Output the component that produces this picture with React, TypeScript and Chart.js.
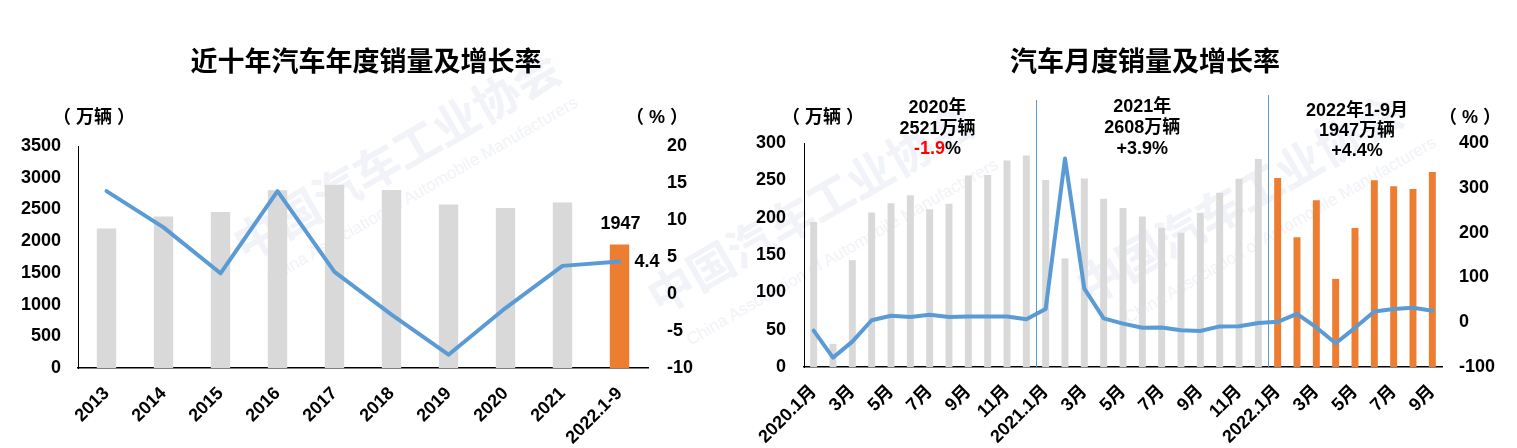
import React, { useEffect, useRef } from 'react';
import { Chart, registerables } from 'chart.js';

Chart.register(...registerables);

// ---------- DATA ----------
const yearLabels = ['2013', '2014', '2015', '2016', '2017', '2018', '2019', '2020', '2021', '2022.1-9'];
const yearSales = [2198, 2390, 2460, 2803, 2888, 2808, 2577, 2521, 2608, 1947];
const yearGrowth = [13.9, 9.0, 2.8, 13.9, 3.0, -2.8, -8.2, -1.9, 3.8, 4.4];

const monthLabels = [
  '2020.1月', '2月', '3月', '4月', '5月', '6月', '7月', '8月', '9月', '10月', '11月', '12月',
  '2021.1月', '2月', '3月', '4月', '5月', '6月', '7月', '8月', '9月', '10月', '11月', '12月',
  '2022.1月', '2月', '3月', '4月', '5月', '6月', '7月', '8月', '9月',
];
const monthSales = [
  194.1, 31.0, 143.1, 207.0, 219.4, 230.0, 211.2, 218.6, 256.5, 257.3, 276.5, 283.1,
  250.3, 145.5, 252.6, 225.2, 212.8, 201.5, 186.4, 179.9, 206.7, 233.3, 252.2, 278.6,
  253.1, 173.7, 223.4, 118.1, 186.2, 250.2, 242.0, 238.3, 261.0,
];
const monthGrowth = [
  -18.7, -79.1, -43.3, 4.4, 14.5, 11.6, 16.4, 11.6, 12.8, 12.5, 12.6, 6.4,
  29.5, 365.2, 74.9, 8.6, -3.1, -12.4, -11.9, -17.8, -19.6, -9.4, -9.1, -1.6,
  0.9, 18.7, -11.7, -47.1, -12.6, 23.8, 29.7, 32.1, 25.7,
];

const periodNames = ['2020年', '2021年', '2022年1-9月'];
const periodTotals = [2521, 2608, 1947];
const periodGrowth = [-1.9, 3.9, 4.4];
const highlightFrom = 24; // 2022 months highlighted

// ---------- STYLE ----------
const FAMILY = "'Liberation Sans', 'Noto Sans CJK SC', sans-serif";
const GRAY = '#d9d9d9';
const ORANGE = '#ed7d31';
const BLUE = '#5b9bd5';
const tickFont = { family: FAMILY, size: 18, weight: 'bold' as const };

function boldFont(size: number) {
  return `bold ${size}px ${FAMILY}`;
}

const leftDecor = {
  id: 'leftDecor',
  afterDatasetsDraw(chart: any) {
    const ctx = chart.ctx;
    ctx.save();
    const barEl = chart.getDatasetMeta(0).data[yearSales.length - 1];
    const lineEl = chart.getDatasetMeta(1).data[yearGrowth.length - 1];
    ctx.fillStyle = '#000';
    ctx.font = boldFont(18);
    ctx.textBaseline = 'middle';
    ctx.textAlign = 'center';
    ctx.fillText(String(yearSales[yearSales.length - 1]), barEl.x + 1, barEl.y - 20);
    ctx.textAlign = 'left';
    ctx.fillText(String(yearGrowth[yearGrowth.length - 1]), lineEl.x + 15, lineEl.y + 1);
    // title & units
    ctx.font = boldFont(27);
    ctx.textAlign = 'center';
    ctx.fillText('近十年汽车年度销量及增长率', 366, 64);
    ctx.font = boldFont(18);
    ctx.fillText('（ 万辆 ）', 94, 118);
    ctx.fillText('（ % ）', 657, 118);
    ctx.restore();
  },
};

const annX = [6.4, 17.0, 28.1];
const annY = [[-35, -14, 6], [-36, -15, 6], [-32, -12, 8]];

const rightDecor = {
  id: 'rightDecor',
  afterDatasetsDraw(chart: any) {
    const ctx = chart.ctx;
    const xs = chart.scales.x;
    const area = chart.chartArea;
    ctx.save();
    // separators
    ctx.strokeStyle = BLUE;
    ctx.lineWidth = 1;
    const sepTops = [100, 95];
    [11.5, 23.5].forEach((v, i) => {
      const px = Math.round(xs.getPixelForValue(v)) + 0.5;
      ctx.beginPath();
      ctx.moveTo(px, sepTops[i]);
      ctx.lineTo(px, area.bottom);
      ctx.stroke();
    });
    ctx.font = boldFont(18);
    ctx.textBaseline = 'middle';
    periodNames.forEach((name, i) => {
      const cx = xs.getPixelForValue(annX[i]);
      ctx.fillStyle = '#000';
      ctx.textAlign = 'center';
      ctx.fillText(name, cx, area.top + annY[i][0]);
      ctx.fillText(`${periodTotals[i]}万辆`, cx, area.top + annY[i][1]);
      const g = periodGrowth[i];
      const num = g > 0 ? `+${g}` : `${g}`;
      if (g < 0) {
        const w1 = ctx.measureText(num).width;
        const w2 = ctx.measureText('%').width;
        const left = cx - (w1 + w2) / 2;
        ctx.textAlign = 'left';
        ctx.fillStyle = '#ff0000';
        ctx.fillText(num, left, area.top + annY[i][2]);
        ctx.fillStyle = '#000';
        ctx.fillText('%', left + w1, area.top + annY[i][2]);
      } else {
        ctx.fillText(`${num}%`, cx, area.top + annY[i][2]);
      }
    });
    ctx.fillStyle = '#000';
    ctx.textAlign = 'center';
    ctx.font = boldFont(27);
    ctx.fillText('汽车月度销量及增长率', 405, 64);
    ctx.font = boldFont(18);
    ctx.fillText('（ 万辆 ）', 83, 118);
    ctx.fillText('（ % ）', 730, 118);
    ctx.restore();
  },
};

function axisY(min: number, max: number, step: number, pos: 'left' | 'right', width: number, pad: number, border: boolean) {
  return {
    position: pos,
    min,
    max,
    ticks: { stepSize: step, font: tickFont, color: '#000', padding: pad, callback: (v: any) => String(v) },
    grid: { display: false, drawTicks: false },
    border: { display: border, color: '#000', width: 1 },
    afterFit: (s: any) => {
      s.width = width;
    },
  };
}

function LeftChart() {
  const ref = useRef<HTMLCanvasElement>(null);
  useEffect(() => {
    const chart = new Chart(ref.current!, {
      type: 'bar',
      data: {
        labels: yearLabels,
        datasets: [
          {
            type: 'bar',
            data: yearSales,
            backgroundColor: yearSales.map((_, i) => (i === yearSales.length - 1 ? ORANGE : GRAY)),
            barPercentage: 1,
            categoryPercentage: 0.34,
            yAxisID: 'y',
            order: 2,
          },
          {
            type: 'line',
            data: yearGrowth,
            borderColor: BLUE,
            borderWidth: 4,
            pointRadius: 0,
            tension: 0,
            borderJoinStyle: 'round',
            borderCapStyle: 'round',
            yAxisID: 'y1',
            order: 1,
          } as any,
        ],
      },
      options: {
        animation: false,
        responsive: false,
        maintainAspectRatio: false,
        layout: { padding: { top: 146, left: 0, right: 0, bottom: 0 } },
        plugins: { legend: { display: false }, tooltip: { enabled: false }, title: { display: false } },
        scales: {
          x: {
            grid: { display: false, drawTicks: false },
            border: { display: true, color: '#000', width: 1.5 },
            ticks: { font: tickFont, color: '#000', maxRotation: 45, minRotation: 45, padding: 15, autoSkip: false },
            afterFit: (s: any) => {
              s.height = 80;
            },
          },
          y: axisY(0, 3500, 500, 'left', 78, 17, true),
          y1: axisY(-10, 20, 5, 'right', 110, 19, false),
        } as any,
      },
      plugins: [leftDecor],
    });
    return () => chart.destroy();
  }, []);
  return <canvas ref={ref} width={758} height={448} style={{ position: 'absolute', left: 0, top: 0, width: 758, height: 448 }} />;
}

function RightChart() {
  const ref = useRef<HTMLCanvasElement>(null);
  useEffect(() => {
    const chart = new Chart(ref.current!, {
      type: 'bar',
      data: {
        labels: monthLabels,
        datasets: [
          {
            type: 'bar',
            data: monthSales,
            backgroundColor: monthSales.map((_, i) => (i >= highlightFrom ? ORANGE : GRAY)),
            barPercentage: 1,
            categoryPercentage: 0.36,
            yAxisID: 'y',
            order: 2,
          },
          {
            type: 'line',
            data: monthGrowth,
            borderColor: BLUE,
            borderWidth: 4,
            pointRadius: 0,
            tension: 0,
            borderJoinStyle: 'round',
            borderCapStyle: 'round',
            yAxisID: 'y1',
            order: 1,
          } as any,
        ],
      },
      options: {
        animation: false,
        responsive: false,
        maintainAspectRatio: false,
        layout: { padding: { top: 143, left: 0, right: 0, bottom: 0 } },
        plugins: { legend: { display: false }, tooltip: { enabled: false }, title: { display: false } },
        scales: {
          x: {
            grid: { display: false, drawTicks: false },
            border: { display: true, color: '#000', width: 1.5 },
            ticks: {
              font: tickFont,
              color: '#000',
              maxRotation: 45,
              minRotation: 45,
              padding: 14,
              autoSkip: false,
              callback: (_v: any, i: number) => (i % 2 === 0 ? monthLabels[i] : ''),
            },
            afterFit: (s: any) => {
              s.height = 81;
            },
          },
          y: axisY(0, 300, 50, 'left', 64, 18, true),
          y1: axisY(-100, 400, 100, 'right', 75, 17, false),
        } as any,
      },
      plugins: [rightDecor],
    });
    return () => chart.destroy();
  }, []);
  return <canvas ref={ref} width={777} height={448} style={{ position: 'absolute', left: 740, top: 0, width: 777, height: 448 }} />;
}

const watermarks = [
  { text: '中国汽车工业协会', x: 397, y: 157, size: 46, angle: -30, bold: true },
  { text: 'China Association of Automobile Manufacturers', x: 422, y: 190, size: 17, angle: -30, bold: false },
  { text: '中国汽车工业协会', x: 811, y: 210, size: 46, angle: -30, bold: true },
  { text: 'China Association of Automobile Manufacturers', x: 842, y: 252, size: 17, angle: -30, bold: false },
  { text: '中国汽车工业协会', x: 1240, y: 200, size: 46, angle: -30, bold: true },
  { text: 'China Association of Automobile Manufacturers', x: 1280, y: 230, size: 17, angle: -30, bold: false },
];

export default function App() {
  return (
    <div style={{ position: 'absolute', left: 0, top: 0, width: 1517, height: 448, background: '#fff', overflow: 'hidden' }}>
      {watermarks.map((w, i) => (
        <div
          key={i}
          style={{
            position: 'absolute',
            left: w.x,
            top: w.y,
            transform: `translate(-50%, -50%) rotate(${w.angle}deg)`,
            whiteSpace: 'nowrap',
            fontFamily: FAMILY,
            fontWeight: w.bold ? 700 : 400,
            fontSize: w.size,
            color: '#f1f3f8',
            lineHeight: 1,
          }}
        >
          {w.text}
        </div>
      ))}
      <LeftChart />
      <RightChart />
    </div>
  );
}
